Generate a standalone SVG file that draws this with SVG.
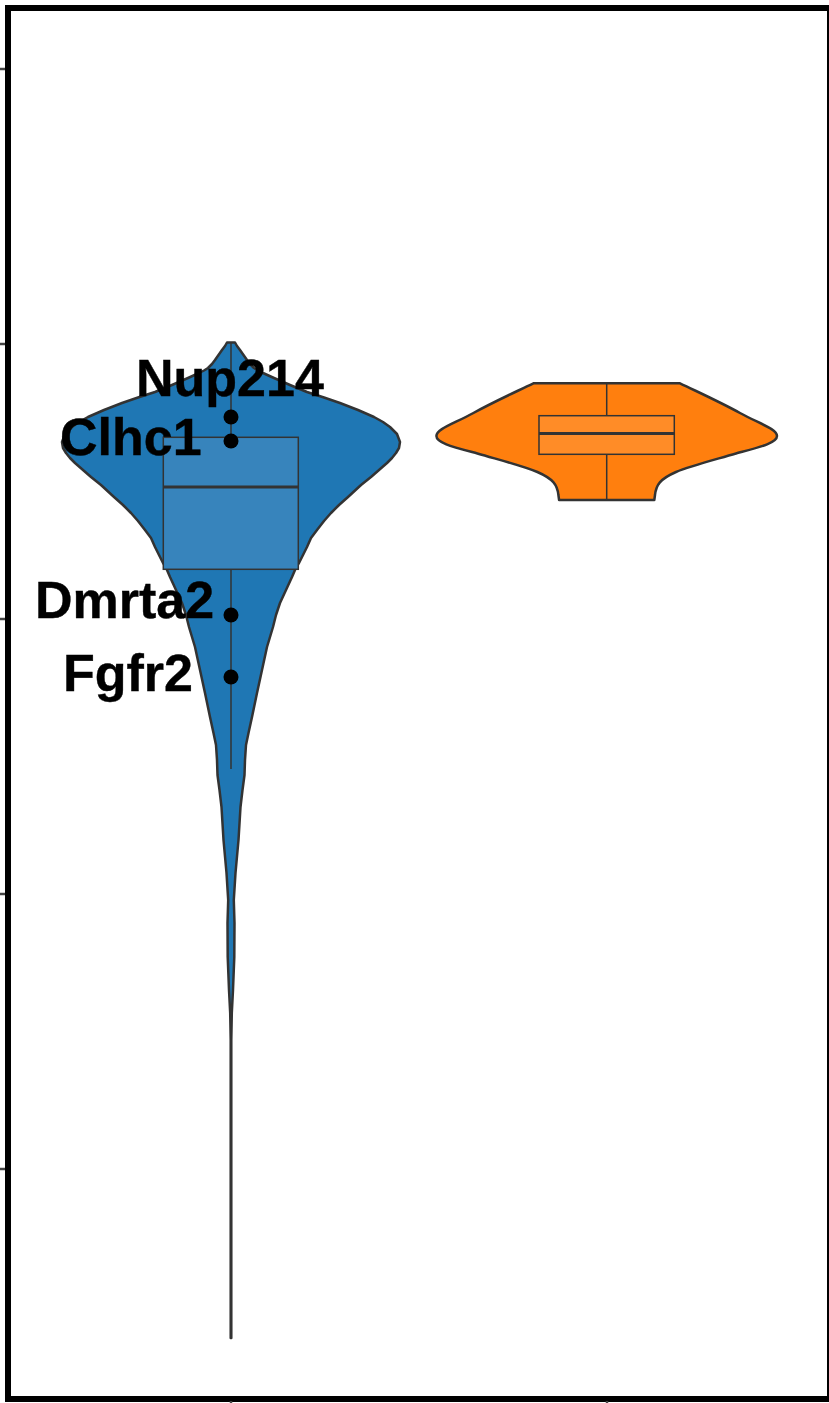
<svg xmlns="http://www.w3.org/2000/svg" width="829" height="1403" viewBox="0 0 829 1403">
<style>
.violin{stroke:#333333;stroke-width:2.5;stroke-linejoin:round}
.box{stroke:#333333;stroke-width:1.5}
.whisk{stroke:#333333;stroke-width:1.5;fill:none}
.med{stroke:#333333;stroke-width:3}
.tick{stroke:#444444;stroke-width:2.5}
.lbl{font-family:"Liberation Sans",Arial,Helvetica,sans-serif;font-weight:bold;font-size:52px;fill:#000000;stroke:#000000;stroke-width:0.4}
.pt{fill:#000000}
</style>
<rect x="0" y="0" width="829" height="1403" fill="#ffffff"/>
<g id="violin-blue">
<path class="violin" fill="#1f77b4" d="M235,342.5 L237,346 L240,350 L243.5,355 L247,360 L250,364 L254,368 L258,370.5 L263,373 L274,378 L290,385 L307,392 L324,397.5 L340,403 L358,410 L374,417 L383,422 L390,427 L397,434 L400,442 L399,448 L396,453 L392,458 L387,463 L379,470 L371,477 L361,485 L348,497 L339,505 L331,513 L324,521 L317,530 L311,538 L307,547 L303,555 L299,563 L295,570 L292,577 L286,590 L280,603 L276,615 L273,627 L267,647 L262,670 L257,693 L252,717 L248.5,733 L246,745 L245,760 L244.5,775 L242.5,790 L240.5,807 L238.5,840 L235.5,873 L233.8,900 L234.5,923 L234.3,957 L233,990 L231.8,1013 L231.3,1040 L231.3,1338 L230.7,1338 L230.7,1040 L230.2,1013 L229,990 L227.7,957 L227.5,923 L228.2,900 L226.5,873 L223.5,840 L221.5,807 L219.5,790 L217.5,775 L217,760 L216,745 L213.5,733 L210,717 L205,693 L200,670 L195,647 L189,627 L186,615 L182,603 L176,590 L170,577 L167,570 L163,563 L159,555 L155,547 L151,538 L145,530 L138,521 L131,513 L123,505 L114,497 L101,485 L91,477 L83,470 L75,463 L70,458 L66,453 L63,448 L62,442 L65,434 L72,427 L79,422 L88,417 L104,410 L122,403 L138,397.5 L155,392 L172,385 L188,378 L199,373 L204,370.5 L208,368 L212,364 L215,360 L218.5,355 L222,350 L225,346 L227,342.5 Z"/>
<line class="whisk" x1="231" y1="342.5" x2="231" y2="437.3"/>
<line class="whisk" x1="231" y1="569.3" x2="231" y2="769"/>
<rect class="box" x="163.3" y="437.3" width="135" height="132" fill="#3784bc"/>
<line class="med" x1="163.3" y1="487" x2="298.3" y2="487"/>
</g>
<g id="violin-orange">
<path class="violin" fill="#ff7f0e" d="M533.4,383.3 L680,383.3 C700,393 720,402 740,413 C760,424 777,429 777,436 C777,443 760,447 736,453.5 C710,461 690,466 676,472 C660,479 656,485 655,495 L654.3,500 L559.1,500 L558.4,495 C557.4,485 553.4,479 537.4,472 C523.4,466 503.4,461 477.4,453.5 C453.4,447 436.4,443 436.4,436 C436.4,429 453.4,424 473.4,413 C493.4,402 513.4,393 533.4,383.3 Z"/>
<line class="whisk" x1="606.7" y1="383.3" x2="606.7" y2="415.7"/>
<line class="whisk" x1="606.7" y1="454.3" x2="606.7" y2="500"/>
<rect class="box" x="539" y="415.7" width="135.3" height="38.6" fill="#ff8c27"/>
<line class="med" x1="539" y1="433.5" x2="674.3" y2="433.5"/>
</g>
<g id="node-nup214">
<circle class="pt" cx="231" cy="417" r="7.5"/>
<text class="lbl" x="136" y="396">Nup214</text>
</g>
<g id="node-clhc1">
<circle class="pt" cx="231" cy="441" r="7.5"/>
<text class="lbl" x="60" y="455">Clhc1</text>
</g>
<g id="node-dmrta2">
<circle class="pt" cx="231" cy="615" r="7.5"/>
<text class="lbl" x="35" y="618">Dmrta2</text>
</g>
<g id="node-fgfr2">
<circle class="pt" cx="231" cy="677" r="7.5"/>
<text class="lbl" x="63" y="691">Fgfr2</text>
</g>
<g id="axes">
<line class="tick" x1="0" y1="69" x2="6" y2="69"/>
<line class="tick" x1="0" y1="344" x2="6" y2="344"/>
<line class="tick" x1="0" y1="619" x2="6" y2="619"/>
<line class="tick" x1="0" y1="894" x2="6" y2="894"/>
<line class="tick" x1="0" y1="1169" x2="6" y2="1169"/>
<rect x="8" y="8" width="822" height="1391" fill="none" stroke="#000000" stroke-width="6"/>
<line class="tick" x1="231" y1="1401" x2="231" y2="1403"/>
<line class="tick" x1="607" y1="1401" x2="607" y2="1403"/>
</g>
</svg>
